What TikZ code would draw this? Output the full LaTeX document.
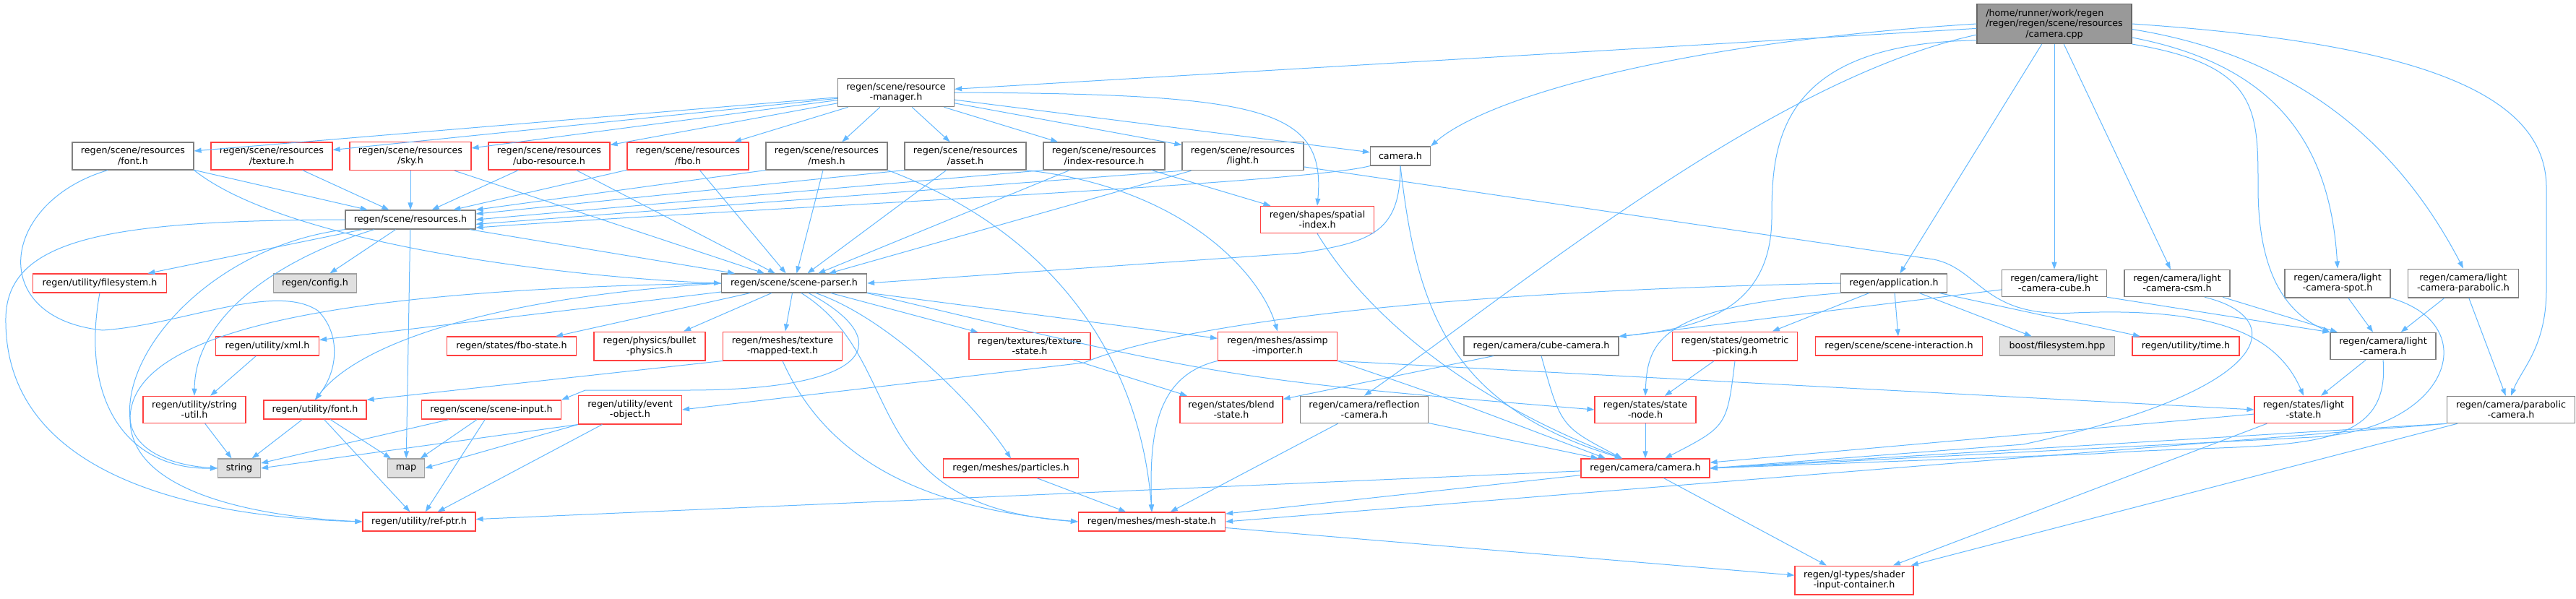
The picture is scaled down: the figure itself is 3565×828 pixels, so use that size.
\documentclass[tikz,border=0pt]{standalone}
\usepackage{fontspec}
\setmainfont{DejaVu Sans}
\usetikzlibrary{arrows.meta}
\definecolor{edgeblue}{RGB}{99,184,255}
\definecolor{truncfill}{RGB}{255,240,240}
\definecolor{truncline}{RGB}{255,64,64}
\definecolor{extfill}{RGB}{224,224,224}
\definecolor{srcfill}{RGB}{153,153,153}
\definecolor{boxline}{RGB}{128,128,128}
\definecolor{extline}{RGB}{160,160,160}
\tikzset{
  incbox/.style={rectangle, draw=boxline, line width=1.2pt, fill=white,
                 inner xsep=4pt, inner ysep=6.5pt, minimum height=26pt, align=center},
  truncbox/.style={incbox, draw=truncline},
  extbox/.style={incbox, draw=extline, fill=extfill},
  srcbox/.style={incbox, draw=boxline!80!black, fill=srcfill},
  dep/.style={-{Triangle[length=10pt,width=7pt]}, draw=edgeblue, line width=1pt},
}

\begin{document}
\begin{tikzpicture}[x=1pt, y=-1pt, font=\fontsize{12.7}{14.5}\selectfont]
\useasboundingbox (0,0) rectangle (3565,828);

% ============================ source file ==============================
\node[srcbox, minimum width=214] (root) at (2843,33)
  {\begin{tabular}{@{}l@{}}/home/runner/work/regen\\/regen/regen/scene/resources\end{tabular}\\/camera.cpp};

% ============================ plain headers ============================
\foreach \nm/\cx/\cy/\w/\lbl in {%
rmgr/1240/128/161/{regen/scene/resource\\-manager.h},
rfont/184/216/168/{regen/scene/resources\\/font.h},
rmesh/1144/216/168/{regen/scene/resources\\/mesh.h},
rasset/1336/216/168/{regen/scene/resources\\/asset.h},
rindex/1528/216/168/{regen/scene/resources\\/index-resource.h},
rlight/1720/216/168/{regen/scene/resources\\/light.h},
camh/1938/216/83/{camera.h},
resh/568/304/180/{regen/scene/resources.h},
parser/1099/392/201/{regen/scene/scene-parser.h},
app/2621/392/147/{regen/application.h},
lccube/2843/392/145/{regen/camera/light\\-camera-cube.h},
lccsm/3013/392/146/{regen/camera/light\\-camera-csm.h},
lcspot/3235/392/146/{regen/camera/light\\-camera-spot.h},
lcpara/3409/392/153/{regen/camera/light\\-camera-parabolic.h},
cubecam/2133/479/214/{regen/camera/cube-camera.h},
lcam/3298/479/146/{regen/camera/light\\-camera.h},
reflcam/1888/567/177/{regen/camera/reflection\\-camera.h},
paracam/3475/567/177/{regen/camera/parabolic\\-camera.h}}
  \node[incbox, minimum width=\w] (\nm) at (\cx,\cy) {\lbl};

% ============================ truncated headers ========================
\foreach \nm/\cx/\cy/\w/\lbl in {%
rtex/376/216/168/{regen/scene/resources\\/texture.h},
rsky/568/216/168/{regen/scene/resources\\/sky.h},
rubo/760/216/168/{regen/scene/resources\\/ubo-resource.h},
rfbo/952/216/168/{regen/scene/resources\\/fbo.h},
spatial/1823/304/157/{regen/shapes/spatial\\-index.h},
fsys/138/392/185/{regen/utility/filesystem.h},
xml/370/479/143/{regen/utility/xml.h},
fbostate/708/479/179/{regen/states/fbo-state.h},
bullet/899/479/154/{regen/physics/bullet\\-physics.h},
tmtext/1083/479/165/{regen/meshes/texture\\-mapped-text.h},
texstate/1425/479/168/{regen/textures/texture\\-state.h},
assimp/1768/479/165/{regen/meshes/assimp\\-importer.h},
picking/2401/479/173/{regen/states/geometric\\-picking.h},
interact/2628/479/231/{regen/scene/scene-interaction.h},
timeh/3025/479/148/{regen/utility/time.h},
strutil/269/567/142/{regen/utility/string\\-util.h},
ufont/436/567/142/{regen/utility/font.h},
sinput/680/567/193/{regen/scene/scene-input.h},
evobj/872/567/143/{regen/utility/event\\-object.h},
blend/1704/567/142/{regen/states/blend\\-state.h},
snode/2277/567/140/{regen/states/state\\-node.h},
lstate/3188/567/136/{regen/states/light\\-state.h},
particles/1399/648/187/{regen/meshes/particles.h},
camcam/2277/648/178/{regen/camera/camera.h},
refptr/580/722/156/{regen/utility/ref-ptr.h},
meshstate/1594/722/203/{regen/meshes/mesh-state.h},
shaderin/2566/803/164/{regen/gl-types/shader\\-input-container.h}}
  \node[truncbox, minimum width=\w] (\nm) at (\cx,\cy) {\lbl};

% ============================ system headers ===========================
\foreach \nm/\cx/\cy/\w/\lbl in {%
config/436/392/115/{regen/config.h},
boost/2847/479/159/{boost/filesystem.hpp},
string/331/648/59/{string},
map/562/648/51/{map}}
  \node[extbox, minimum width=\w] (\nm) at (\cx,\cy) {\lbl};

% ============================ straight includes ========================
\foreach \a/\b in {%
root/rmgr, root/app, root/lccube, root/lccsm,
rmgr/rfont, rmgr/rtex, rmgr/rsky, rmgr/rubo, rmgr/rfbo, rmgr/rmesh,
rmgr/rasset, rmgr/rindex, rmgr/rlight, rmgr/camh,
rfont/resh, rtex/resh, rsky/resh, rubo/resh, rfbo/resh,
rmesh.south west/resh.north east, rasset.south west/resh.5,
rindex.south west/resh.east, rlight.south west/resh.-4,
rsky/parser, rubo/parser, rfbo/parser, rmesh/parser, rasset/parser,
rindex/parser, rlight/parser, resh/parser, rindex/spatial,
resh/fsys, resh/config, resh/map,
parser/xml, parser/fbostate, parser/bullet, parser/tmtext, parser/texstate, parser/assimp,
xml/strutil, strutil/string, ufont/string, ufont/map, ufont/refptr,
sinput/string, sinput/map, sinput/refptr,
evobj.south west/string.east, evobj.south west/map.east, evobj/refptr,
tmtext.south west/ufont.north east,
texstate/blend, particles/meshstate, assimp.south east/lstate.west,
cubecam/blend, reflcam/camcam, reflcam/meshstate,
snode/camcam, picking/snode,
app/picking, app/interact, app/boost, app/timeh,
lccube/cubecam, lccube.south east/lcam.north west, lccsm/lcam,
lcspot/lcam, lcpara/lcam, lcpara/paracam, lcam/lstate,
lstate/camcam, lstate/shaderin,
paracam.south west/camcam.east, paracam.south west/meshstate.east, paracam/shaderin,
camcam/meshstate, camcam/refptr, camcam/shaderin, meshstate/shaderin}
  \draw[dep] (\a) -- (\b);

% ============================ routed includes ==========================
% from the source file
\draw[dep] (root.west) .. controls (2300,60) and (2050,140) .. (camh.north east);
\draw[dep] (root.192) .. controls (2460,60) and (2452,200) .. (2452,300)
  .. controls (2452,430) and (2350,455) .. (cubecam.north east);
\draw[dep] (root.188) .. controls (2450,110) and (2100,400) .. (reflcam.north);
\draw[dep] (root.south east) .. controls (3125,90) and (3125,150) .. (3125,260)
  .. controls (3125,400) and (3180,440) .. (lcam.north west);
\draw[dep] (root.-10) .. controls (3150,90) and (3225,200) .. (lcspot.north);
\draw[dep] (root.-4) .. controls (3200,80) and (3330,220) .. (lcpara.north);
\draw[dep] (root.east) .. controls (3350,60) and (3524,130) .. (3524,260) -- (3524,400)
  .. controls (3524,480) and (3490,510) .. (paracam.north);

% resource manager and resources
\draw[dep] (rmgr.east) .. controls (1750,130) and (1835,150) .. (spatial.north);
\draw[dep] ([xshift=-35pt]rfont.south) .. controls (0,280) and (-20,440) .. (142,457)
  .. controls (250,450) and (380,390) .. (440,430)
  .. controls (470,460) and (470,510) .. (ufont.north);
\draw[dep] (rfont.south east) .. controls (400,340) and (800,385) .. (parser.west);
\draw[dep] (rmesh.south east) .. controls (1480,330) and (1580,520) .. (meshstate.north);
\draw[dep] (rasset.south east) .. controls (1640,260) and (1745,380) .. (assimp.north);
\draw[dep] (rlight.-10) -- (2676,359) .. controls (2740,372) and (2745,440) .. (2870,433)
  .. controls (3060,425) and (3150,460) .. (lstate.north);
\draw[dep] (camh.south west) .. controls (1800,255) and (1000,290) .. (resh.-7);
\draw[dep] (camh.south) .. controls (1938,320) and (1900,335) .. (1800,350) -- (parser.east);
\draw[dep] (camh.south) .. controls (1960,420) and (2000,560) .. ([xshift=-32pt]camcam.north);

% resources.h
\draw[dep] (resh.west) .. controls (150,305) and (10,330) .. (8,440)
  .. controls (5,650) and (250,715) .. (refptr.west);
\draw[dep] (resh.south west) .. controls (300,340) and (170,480) .. (180,580)
  .. controls (185,630) and (250,645) .. (string.west);
\draw[dep] ([xshift=-50pt]resh.south) .. controls (380,360) and (270,440) .. (strutil.north);
\draw[dep] (fsys.south) .. controls (110,560) and (180,650) .. (string.west);

% scene parser
\draw[dep] (parser.west) .. controls (700,410) and (500,470) .. (ufont.north);
\draw[dep] (parser.west) .. controls (500,400) and (180,450) .. (180,580)
  .. controls (180,680) and (350,715) .. (refptr.west);
\draw[dep] ([xshift=20pt]parser.south) .. controls (1240,470) and (1215,540) .. (950,540)
  -- (810,540) -- (sinput.north east);
\draw[dep] ([xshift=30pt]parser.south) .. controls (1230,440) and (1350,560) .. (particles.north);
\draw[dep] ([xshift=10pt]parser.south) .. controls (1260,500) and (1180,700) .. (meshstate.west);
\draw[dep] (parser.south east) .. controls (1700,525) .. (snode.west);
\draw[dep] (tmtext.south) .. controls (1150,650) and (1300,705) .. (meshstate.west);

% meshes, cameras and states
\draw[dep] (assimp.south west) .. controls (1600,520) and (1590,600) .. (meshstate.north);
\draw[dep] (assimp.south east) .. controls (2000,550) .. ([xshift=-55pt]camcam.north);
\draw[dep] (spatial.south) .. controls (1900,450) and (2050,560) .. ([xshift=-32pt]camcam.north);
\draw[dep] (cubecam.south) .. controls (2160,590) .. ([xshift=-32pt]camcam.north);
\draw[dep] (picking.south) .. controls (2390,590) .. ([xshift=27pt]camcam.north);
\draw[dep] (app.south west) .. controls (2300,425) and (2280,470) .. (snode.north);
\draw[dep] (app.west) .. controls (1900,405) and (1600,460) .. (1500,502) -- (evobj.east);
\draw[dep] ([xshift=38pt]lccsm.south) .. controls (3170,440) and (3150,540) .. (2800,615)
  -- (camcam.east);
\draw[dep] (lcspot.south east) .. controls (3440,450) and (3390,595) .. (3200,605)
  -- (camcam.east);
\draw[dep] (lcam.south) .. controls (3310,640) and (3150,610) .. (2900,628) -- (camcam.east);

\end{tikzpicture}
\end{document}
